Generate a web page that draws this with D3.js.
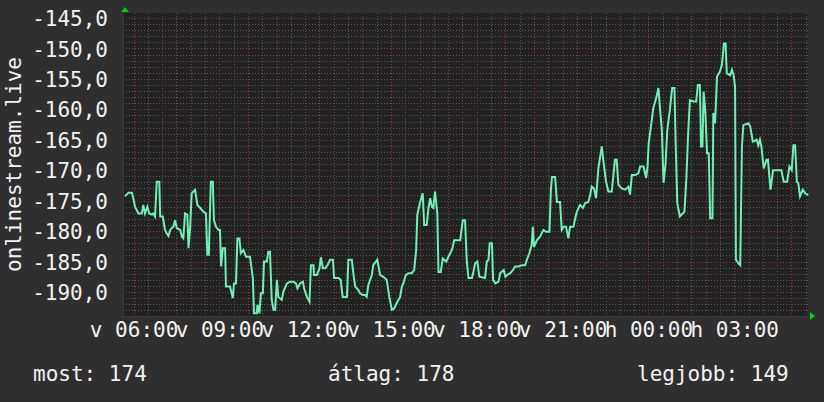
<!DOCTYPE html>
<html lang="hu">
<head>
  <meta charset="UTF-8">
  <title>onlinestream.live</title>
  <script src="https://d3js.org/d3.v7.min.js"></script>
  <style>
    body { margin: 0; background: #2f2f2f; }
    svg text { font-family: "DejaVu Sans Mono", monospace; fill: #f2f2f2; }
    .axis path, .axis line { display: none; }
  </style>
</head>
<body>
  <div id="chart"></div>

  <script>
    // hours counted from Sunday 00:00 (values > 24 are Monday)
    const sampleHours = [
      5.70, 5.82, 5.94, 5.99, 6.05, 6.17, 6.29, 6.34, 6.40, 6.48, 6.55, 6.64, 6.69, 6.75, 6.81, 6.90,
      6.93, 7.02, 7.10, 7.16, 7.22, 7.28, 7.34, 7.39, 7.45, 7.51, 7.63, 7.69, 7.74, 7.80, 7.88, 7.92,
      7.98, 8.03, 8.15, 8.23, 8.33, 8.44, 8.53, 8.58, 8.63, 8.70, 8.77, 8.81, 8.88, 8.97, 9.02, 9.06,
      9.12, 9.20, 9.23, 9.37, 9.47, 9.51, 9.58, 9.63, 9.70, 9.75, 9.84, 9.93, 10.07, 10.17, 10.21, 10.31,
      10.33, 10.40, 10.45, 10.52, 10.56, 10.66, 10.71, 10.77, 10.83, 10.89, 10.95, 11.01, 11.06, 11.18, 11.24, 11.36,
      11.47, 11.59, 11.68, 11.73, 11.82, 11.92, 11.96, 12.06, 12.15, 12.20, 12.29, 12.31, 12.41, 12.50, 12.55, 12.62,
      12.70, 12.78, 12.87, 12.97, 13.01, 13.16, 13.24, 13.31, 13.46, 13.51, 13.63, 13.69, 13.75, 13.86, 13.92, 14.01,
      14.09, 14.15, 14.21, 14.33, 14.38, 14.52, 14.62, 14.73, 14.85, 14.94, 15.03, 15.11, 15.20, 15.32, 15.38, 15.43,
      15.52, 15.61, 15.73, 15.81, 15.88, 15.92, 16.02, 16.11, 16.16, 16.25, 16.31, 16.37, 16.43, 16.48, 16.54, 16.62,
      16.66, 16.74, 16.81, 16.93, 17.01, 17.13, 17.21, 17.42, 17.51, 17.59, 17.65, 17.71, 17.83, 17.88, 17.94, 18.02,
      18.09, 18.29, 18.35, 18.41, 18.45, 18.53, 18.57, 18.65, 18.76, 18.82, 18.94, 19.00, 19.06, 19.17, 19.26, 19.34,
      19.46, 19.57, 19.69, 19.75, 19.84, 19.92, 19.96, 20.00, 20.10, 20.21, 20.33, 20.42, 20.54, 20.59, 20.63, 20.74,
      20.80, 20.91, 20.97, 21.03, 21.12, 21.20, 21.26, 21.38, 21.44, 21.50, 21.61, 21.71, 21.79, 21.90, 21.96, 22.02,
      22.10, 22.17, 22.25, 22.37, 22.43, 22.52, 22.60, 22.72, 22.77, 22.83, 22.89, 22.95, 23.07, 23.19, 23.30, 23.36,
      23.42, 23.54, 23.65, 23.71, 23.83, 23.92, 23.97, 24.01, 24.12, 24.17, 24.27, 24.35, 24.41, 24.47, 24.53, 24.60,
      24.66, 24.75, 24.83, 24.91, 24.95, 25.01, 25.10, 25.26, 25.33, 25.38, 25.45, 25.59, 25.67, 25.73, 25.80, 25.84,
      25.89, 25.93, 25.99, 26.05, 26.11, 26.16, 26.24, 26.27, 26.33, 26.40, 26.50, 26.57, 26.64, 26.70, 26.74, 26.86,
      26.92, 26.98, 27.03, 27.06, 27.15, 27.21, 27.27, 27.32, 27.50, 27.56, 27.65, 27.79, 27.84, 27.90, 27.95, 28.03,
      28.13, 28.18, 28.27, 28.36, 28.65, 28.73, 28.85, 28.93, 29.01, 29.07, 29.13, 29.19, 29.24, 29.30, 29.40, 29.48,
      29.59
    ];
    const sampleValues = [
      -174.3, -173.7, -173.7, -174.6, -176.0, -177.1, -177.1, -175.7, -177.1, -176.0, -177.1, -177.3, -177.1, -177.6, -171.9, -171.9,
      -177.6, -177.6, -179.8, -180.4, -180.8, -179.8, -179.5, -179.3, -178.2, -179.5, -179.8, -180.9, -181.2, -177.1, -177.3, -182.8,
      -179.3, -173.8, -173.2, -175.7, -176.2, -176.8, -177.1, -183.9, -183.9, -171.9, -171.9, -178.2, -179.3, -179.8, -179.8, -185.8,
      -182.8, -182.8, -189.1, -189.1, -191.0, -188.6, -188.6, -181.2, -181.2, -183.6, -183.1, -184.2, -184.2, -187.7, -193.5, -193.5,
      -192.1, -193.5, -190.2, -190.2, -185.0, -185.0, -183.4, -183.4, -191.3, -192.9, -192.9, -188.0, -190.8, -191.3, -189.9, -188.6,
      -188.3, -188.3, -188.6, -189.4, -188.6, -188.3, -189.4, -190.8, -191.6, -185.6, -185.6, -187.2, -187.2, -186.1, -184.3, -186.1,
      -186.1, -185.6, -184.7, -184.7, -187.7, -187.7, -188.0, -190.8, -190.8, -184.7, -184.7, -187.2, -189.1, -189.7, -190.2, -190.5,
      -190.5, -190.8, -188.8, -187.2, -185.6, -184.7, -187.2, -187.5, -188.0, -190.8, -192.9, -192.7, -191.8, -190.8, -189.1, -188.6,
      -187.2, -186.9, -186.9, -186.4, -183.1, -177.3, -175.2, -173.8, -179.0, -179.0, -176.2, -174.6, -176.0, -176.2, -173.5, -177.1,
      -186.7, -186.7, -184.5, -185.0, -184.2, -183.1, -181.5, -181.5, -178.2, -178.2, -185.0, -187.7, -187.7, -186.7, -185.3, -185.0,
      -187.5, -187.7, -185.0, -184.7, -182.0, -182.0, -188.0, -188.6, -188.3, -186.9, -186.4, -187.5, -187.2, -186.9, -186.4, -185.8,
      -185.8, -185.6, -185.6, -184.7, -183.6, -182.2, -179.3, -182.6, -181.5, -180.9, -179.8, -180.1, -180.1, -173.2, -171.1, -171.1,
      -175.2, -175.2, -179.8, -179.3, -179.3, -181.2, -179.3, -179.3, -177.9, -176.8, -175.7, -176.2, -175.4, -175.2, -174.1, -172.7,
      -173.0, -174.6, -169.7, -166.1, -168.6, -171.9, -173.5, -173.5, -171.1, -168.3, -168.3, -172.4, -173.0, -173.2, -172.7, -174.0,
      -170.8, -170.8, -170.5, -169.4, -169.4, -171.3, -169.4, -165.6, -161.7, -159.8, -158.2, -156.5, -160.1, -163.4, -172.1, -168.9,
      -163.4, -160.1, -156.5, -156.5, -165.0, -175.4, -177.6, -176.8, -171.1, -165.0, -158.5, -158.7, -158.7, -156.0, -156.0, -166.1,
      -166.1, -157.1, -160.4, -167.2, -167.2, -177.9, -177.9, -160.6, -162.3, -154.6, -153.8, -152.7, -149.2, -149.2, -154.1, -154.4,
      -153.5, -154.4, -156.3, -184.7, -185.3, -185.6, -166.1, -162.6, -162.3, -162.8, -165.3, -165.0, -165.9, -165.0, -166.1, -169.7,
      -168.3, -168.3, -173.2, -170.0, -170.0, -171.9, -171.9, -169.4, -170.0, -165.9, -165.9, -171.9, -172.1, -174.3, -173.2, -173.8,
      -174.1
    ];

    // x axis labels (v = vasárnap, h = hétfő)
    const tickHours = [6, 9, 12, 15, 18, 21, 24, 27];
    const tickLabels = ["v 06:00", "v 09:00", "v 12:00", "v 15:00", "v 18:00", "v 21:00", "h 00:00", "h 03:00"];

    // legend
    const legendLabels = ["most: 174", "átlag: 178", "legjobb: 149"];

    const yTitle = "onlinestream.live";

    const W = 824, H = 402;
    const plot = { left: 123, right: 808, top: 13, bottom: 316 };

    const svg = d3.select("#chart").append("svg")
      .attr("width", W)
      .attr("height", H);

    svg.append("rect").attr("width", W).attr("height", H).attr("fill", "#2f2f2f");

    const x = d3.scaleLinear().domain([5.63, 29.58]).range([plot.left, plot.right]);
    const y = d3.scaleLinear().domain([-193.94, -144.18]).range([plot.bottom, plot.top]);

    // plot canvas
    svg.append("rect")
      .attr("x", plot.left).attr("y", plot.top)
      .attr("width", plot.right - plot.left).attr("height", plot.bottom - plot.top)
      .attr("fill", "#212121");

    const grid = svg.append("g");

    // minor grid: every 1 unit / every 30 minutes
    const yMinor = d3.range(-193, -144, 1).filter(v => v % 5 !== 0);
    const yMajor = d3.range(-190, -144, 5);
    const xMinor = d3.range(6, 29.6, 0.5).filter(h => h % 1 !== 0);
    const xMajor = d3.range(6, 30, 1).filter(h => x(h) <= plot.right);

    grid.selectAll(".ymin").data(yMinor).enter().append("line")
      .attr("x1", plot.left).attr("x2", plot.right)
      .attr("y1", d => Math.round(y(d)) + 0.5).attr("y2", d => Math.round(y(d)) + 0.5)
      .attr("stroke", "#5a5a5a").attr("stroke-dasharray", "1,2");

    grid.selectAll(".xmin").data(xMinor).enter().append("line")
      .attr("y1", plot.top).attr("y2", plot.bottom + 2)
      .attr("x1", d => Math.round(x(d)) + 0.5).attr("x2", d => Math.round(x(d)) + 0.5)
      .attr("stroke", "#5a5a5a").attr("stroke-dasharray", "1,2");

    grid.selectAll(".ymaj").data(yMajor).enter().append("line")
      .attr("x1", plot.left).attr("x2", plot.right)
      .attr("y1", d => Math.round(y(d)) + 0.5).attr("y2", d => Math.round(y(d)) + 0.5)
      .attr("stroke", "#8a3c3c").attr("stroke-dasharray", "1,2");

    grid.selectAll(".xmaj").data(xMajor).enter().append("line")
      .attr("y1", plot.top).attr("y2", plot.bottom + 3)
      .attr("x1", d => Math.round(x(d)) + 0.5).attr("x2", d => Math.round(x(d)) + 0.5)
      .attr("stroke", "#8a3c3c").attr("stroke-dasharray", "1,2");

    // axis lines
    svg.append("line")
      .attr("x1", plot.left - 2).attr("x2", plot.right + 2)
      .attr("y1", plot.bottom + 0.5).attr("y2", plot.bottom + 0.5)
      .attr("stroke", "#3a3a3a");
    svg.append("line")
      .attr("x1", plot.left + 0.5).attr("x2", plot.left + 0.5)
      .attr("y1", plot.top - 2).attr("y2", plot.bottom + 2)
      .attr("stroke", "#3a3a3a");

    // green arrows
    svg.append("path")
      .attr("d", `M${plot.left - 2},${plot.top - 1} L${plot.left + 6},${plot.top - 1} L${plot.left + 2},${plot.top - 6} Z`)
      .attr("fill", "#00d000");
    svg.append("path")
      .attr("d", `M${plot.right + 2},${plot.bottom - 4} L${plot.right + 2},${plot.bottom + 4} L${plot.right + 7},${plot.bottom} Z`)
      .attr("fill", "#00d000");

    // data line
    const line = d3.line()
      .x((d, i) => x(sampleHours[i]))
      .y(d => y(d));

    svg.append("path")
      .datum(sampleValues)
      .attr("fill", "none")
      .attr("stroke", "#6ff0b4")
      .attr("stroke-width", 2)
      .attr("stroke-linejoin", "miter")
      .attr("d", line);

    // y labels
    const huLocale = d3.formatLocale({ decimal: ",", thousands: " ", grouping: [3], currency: ["", " Ft"], minus: "-" });
    const fmt = huLocale.format(".1f");

    svg.append("g")
      .attr("class", "axis")
      .attr("transform", `translate(${plot.left - 15},0)`)
      .call(d3.axisLeft(y).tickValues(d3.range(-190, -144, 5)).tickSize(0).tickPadding(0).tickFormat(fmt))
      .selectAll("text")
      .attr("font-size", 21)
      .attr("dy", "0.36em")
      .attr("fill", "#f2f2f2");

    // x labels
    svg.append("g")
      .attr("class", "axis")
      .attr("transform", `translate(0,${plot.bottom + 6})`)
      .call(d3.axisBottom(x).tickValues(tickHours).tickSize(0).tickPadding(0).tickFormat((d, i) => tickLabels[i]))
      .selectAll("text")
      .attr("font-size", 21)
      .attr("dy", "0.73em")
      .attr("fill", "#f2f2f2");

    // rotated title
    svg.append("text")
      .attr("transform", `translate(21,${(plot.top + plot.bottom) / 2}) rotate(-90)`)
      .attr("text-anchor", "middle")
      .attr("font-size", 21)
      .text(yTitle);

    // legend row
    const legendX = [33, 328, 637];
    svg.selectAll(".legend").data(legendLabels).enter().append("text")
      .attr("x", (d, i) => legendX[i])
      .attr("y", 381)
      .attr("font-size", 21)
      .text(d => d);
  </script>
</body>
</html>
